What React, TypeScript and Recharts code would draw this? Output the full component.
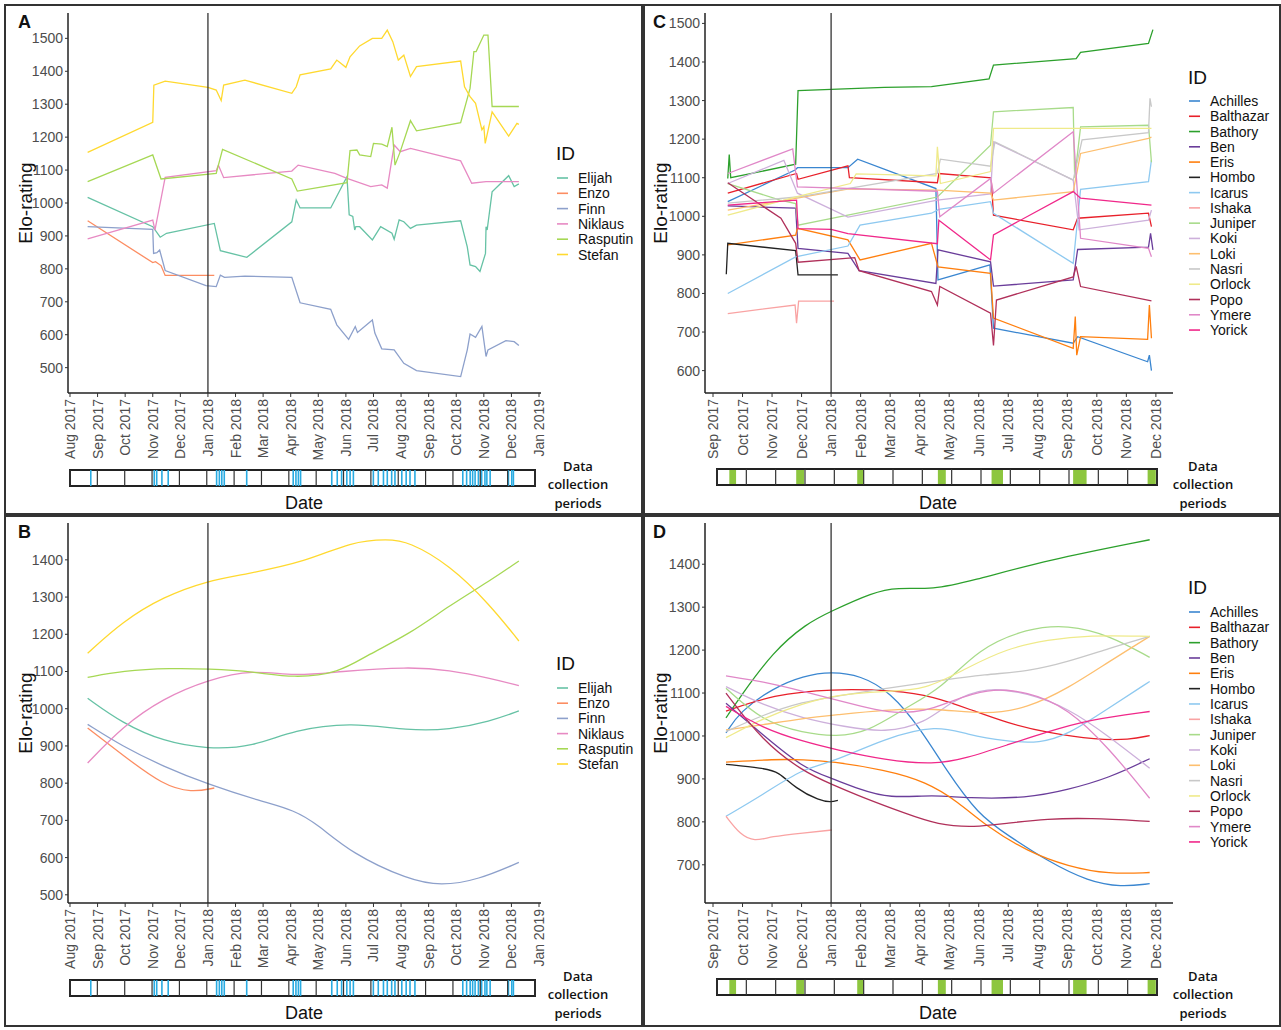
import React from 'react';
import { LineChart, Line, XAxis, YAxis, ReferenceLine, ReferenceArea, ComposedChart } from 'recharts';

type Pt = [number, number];

const FONT = '"Liberation Sans", Arial, sans-serif';

// ---- axis labels ----
const monthsAB = ['Aug 2017', 'Sep 2017', 'Oct 2017', 'Nov 2017', 'Dec 2017', 'Jan 2018', 'Feb 2018', 'Mar 2018', 'Apr 2018',
  'May 2018', 'Jun 2018', 'Jul 2018', 'Aug 2018', 'Sep 2018', 'Oct 2018', 'Nov 2018', 'Dec 2018', 'Jan 2019'];
const monthsCD = ['Sep 2017', 'Oct 2017', 'Nov 2017', 'Dec 2017', 'Jan 2018', 'Feb 2018', 'Mar 2018', 'Apr 2018',
  'May 2018', 'Jun 2018', 'Jul 2018', 'Aug 2018', 'Sep 2018', 'Oct 2018', 'Nov 2018', 'Dec 2018'];
const ticksAB = [0, 1, 2, 3, 4, 5, 6, 7, 8, 9, 10, 11, 12, 13, 14, 15, 16, 17];
const ticksCD = [0, 1, 2, 3, 4, 5, 6, 7, 8, 9, 10, 11, 12, 13, 14, 15];
const yTicksA = [500, 600, 700, 800, 900, 1000, 1100, 1200, 1300, 1400, 1500];
const yTicksB = [500, 600, 700, 800, 900, 1000, 1100, 1200, 1300, 1400];
const yTicksC = [600, 700, 800, 900, 1000, 1100, 1200, 1300, 1400, 1500];
const yTicksD = [700, 800, 900, 1000, 1100, 1200, 1300, 1400];

// ---- group 1 (panels A, B) ----
const ids1 = ['Elijah', 'Enzo', 'Finn', 'Niklaus', 'Rasputin', 'Stefan'];
const colors1 = ['#66C2A5', '#FC8D62', '#8DA0CB', '#E78AC3', '#A6D854', '#FFD92F'];

// months since Aug 2017, Elo rating
const aElijah: Pt[] = [[0.64, 1017], [3.0, 928], [3.27, 896], [3.5, 908], [5.23, 938], [5.45, 855], [6.41, 835], [8.04, 943], [8.2, 1009], [8.34, 985], [9.45, 985], [10.04, 1080], [10.12, 964], [10.25, 959], [10.32, 918], [10.36, 928], [10.5, 928], [10.96, 888], [11.26, 928], [11.67, 908], [11.75, 890], [11.93, 949], [12.1, 943], [12.34, 923], [12.56, 933], [14.16, 946], [14.4, 867], [14.5, 812], [14.7, 807], [14.86, 792], [15.06, 847], [15.08, 928], [15.12, 918], [15.3, 1034], [15.9, 1083], [16.1, 1050], [16.27, 1058]];
const aEnzo: Pt[] = [[0.64, 946], [3.0, 819], [3.1, 822], [3.3, 810], [3.45, 780], [5.23, 780]];
const aFinn: Pt[] = [[0.64, 928], [3.0, 920], [3.03, 847], [3.15, 849], [3.25, 857], [3.45, 795], [4.93, 749], [5.3, 746], [5.45, 781], [5.6, 774], [6.34, 778], [8.04, 774], [8.34, 697], [9.45, 677], [9.67, 630], [10.1, 586], [10.34, 625], [10.42, 607], [10.96, 645], [11.05, 605], [11.3, 557], [11.75, 554], [12.1, 513], [12.56, 491], [14.16, 473], [14.4, 554], [14.5, 602], [14.7, 592], [14.93, 625], [15.08, 534], [15.15, 554], [15.8, 582], [16.1, 579], [16.27, 567]];
const aNiklaus: Pt[] = [[0.64, 891], [3.0, 948], [3.08, 918], [3.45, 1078], [5.3, 1098], [5.38, 1115], [5.57, 1077], [8.04, 1097], [8.27, 1115], [9.6, 1090], [10.04, 1075], [10.9, 1050], [11.3, 1055], [11.5, 1045], [11.75, 1176], [11.97, 1156], [12.34, 1166], [14.16, 1128], [14.56, 1060], [15.08, 1065], [16.27, 1065]];
const aRasputin: Pt[] = [[0.64, 1065], [3.0, 1146], [3.3, 1073], [5.3, 1090], [5.53, 1163], [8.04, 1073], [8.24, 1036], [10.04, 1062], [10.15, 1159], [10.4, 1161], [10.5, 1146], [10.9, 1141], [11.0, 1181], [11.3, 1179], [11.5, 1171], [11.67, 1230], [11.78, 1115], [11.97, 1156], [12.34, 1250], [12.56, 1219], [14.16, 1244], [14.5, 1348], [14.64, 1460], [14.72, 1460], [15.0, 1510], [15.15, 1510], [15.3, 1293], [16.27, 1293]];
const aStefan: Pt[] = [[0.64, 1154], [3.0, 1245], [3.04, 1358], [3.45, 1370], [5.0, 1351], [5.3, 1343], [5.48, 1311], [5.57, 1358], [6.34, 1373], [8.04, 1333], [8.2, 1353], [8.34, 1389], [9.45, 1407], [9.67, 1434], [10.0, 1412], [10.15, 1444], [10.5, 1477], [10.96, 1500], [11.3, 1500], [11.5, 1525], [11.7, 1490], [11.9, 1434], [12.1, 1449], [12.34, 1384], [12.56, 1414], [14.16, 1431], [14.3, 1353], [14.5, 1323], [14.7, 1303], [14.93, 1222], [15.0, 1232], [15.05, 1181], [15.3, 1277], [15.9, 1203], [16.2, 1242], [16.27, 1239]];

const bElijah: Pt[] = [[0.64, 1028], [1.9, 961], [3.38, 912], [5.0, 891], [6.64, 898], [8.12, 943], [10.19, 964], [12.27, 941], [13.75, 943], [15.23, 966], [16.27, 994]];
const bEnzo: Pt[] = [[0.64, 948], [1.9, 876], [3.38, 794], [4.41, 775], [5.23, 787]];
const bFinn: Pt[] = [[0.64, 958], [1.9, 899], [3.38, 845], [5.0, 797], [6.93, 751], [8.12, 728], [9.0, 688], [10.19, 612], [12.27, 540], [13.45, 524], [14.79, 540], [16.27, 587]];
const bNiklaus: Pt[] = [[0.64, 854], [1.9, 952], [3.38, 1028], [5.0, 1078], [6.64, 1105], [8.12, 1087], [9.75, 1100], [12.27, 1113], [13.75, 1104], [15.23, 1082], [16.27, 1062]];
const bRasputin: Pt[] = [[0.64, 1084], [1.9, 1102], [3.67, 1109], [5.0, 1107], [6.64, 1100], [8.12, 1082], [9.75, 1096], [10.79, 1145], [12.27, 1199], [13.75, 1277], [15.23, 1344], [16.27, 1397]];
const bStefan: Pt[] = [[0.64, 1149], [1.9, 1234], [3.38, 1301], [5.0, 1344], [6.34, 1361], [8.56, 1395], [10.19, 1449], [11.53, 1456], [12.27, 1449], [13.75, 1387], [15.23, 1279], [16.27, 1182]];

// ---- group 2 (panels C, D) ----
const ids2 = ['Achilles', 'Balthazar', 'Bathory', 'Ben', 'Eris', 'Hombo', 'Icarus', 'Ishaka', 'Juniper', 'Koki', 'Loki', 'Nasri', 'Orlock', 'Popo', 'Ymere', 'Yorick'];
const colors2 = ['#3A86D0', '#E8202A', '#2CA02C', '#6A3D9A', '#FF7F0E', '#222222', '#8EC9F0', '#F9A3A3', '#A8DB8A', '#CDB0DB', '#FDBF6F', '#C8C8C8', '#EFEA8A', '#B0305A', '#E088C8', '#F0288A'];

// months since Sep 2017, Elo rating
const cAchilles: Pt[] = [[0.5, 1038], [2.78, 1120], [2.86, 1126], [4.57, 1126], [4.9, 1148], [7.55, 1072], [7.62, 835], [9.38, 874], [9.5, 710], [12.2, 671], [12.35, 688], [14.72, 623], [14.78, 640], [14.85, 600]];
const cBalthazar: Pt[] = [[0.5, 1060], [2.83, 1111], [2.88, 1096], [4.57, 1131], [4.62, 1100], [7.6, 1087], [7.65, 1111], [9.42, 1100], [9.5, 1003], [12.2, 965], [12.35, 995], [14.75, 1008], [14.85, 973]];
const cBathory: Pt[] = [[0.5, 1098], [0.55, 1160], [0.6, 1100], [2.8, 1135], [2.88, 1326], [4.0, 1329], [5.8, 1334], [7.4, 1336], [9.35, 1356], [9.5, 1392], [12.3, 1409], [12.45, 1425], [14.75, 1448], [14.9, 1484]];
const cBen: Pt[] = [[0.5, 1027], [2.8, 1021], [2.88, 917], [4.57, 904], [4.95, 859], [7.55, 826], [7.62, 913], [9.4, 882], [9.5, 819], [12.2, 835], [12.35, 914], [14.75, 920], [14.82, 956], [14.9, 913]];
const cEris: Pt[] = [[0.5, 926], [2.8, 951], [2.86, 969], [4.57, 939], [4.98, 887], [7.4, 930], [7.62, 869], [9.4, 852], [9.5, 736], [12.2, 658], [12.27, 740], [12.32, 640], [12.45, 688], [14.72, 681], [14.78, 770], [14.85, 684]];
const cHombo: Pt[] = [[0.45, 850], [0.5, 930], [2.8, 911], [2.88, 848], [4.23, 848]];
const cIcarus: Pt[] = [[0.5, 800], [2.8, 895], [4.57, 923], [4.98, 977], [7.4, 1008], [7.65, 1018], [9.4, 1038], [9.5, 1008], [12.2, 878], [12.45, 1070], [14.75, 1090], [14.85, 1146]];
const cIshaka: Pt[] = [[0.5, 748], [2.78, 770], [2.83, 723], [2.9, 780], [4.1, 780]];
const cJuniper: Pt[] = [[0.5, 1085], [2.27, 1042], [2.8, 1033], [2.88, 977], [7.6, 1050], [9.4, 1184], [9.5, 1271], [12.2, 1282], [12.25, 1100], [12.45, 1232], [14.75, 1236], [14.85, 1140]];
const cKoki: Pt[] = [[0.5, 1085], [2.4, 1145], [2.86, 1060], [4.57, 998], [7.6, 1042], [9.4, 1058], [9.5, 1193], [12.2, 1094], [12.4, 965], [14.75, 990], [14.85, 1016]];
const cLoki: Pt[] = [[0.5, 1016], [2.85, 1047], [4.6, 1071], [7.6, 1068], [9.4, 1060], [9.5, 1042], [12.2, 1064], [12.45, 1163], [14.75, 1202], [14.85, 1205]];
const cNasri: Pt[] = [[0.5, 1034], [2.85, 1050], [7.6, 1111], [7.7, 1148], [9.4, 1130], [9.55, 1193], [12.2, 1094], [12.5, 1198], [14.75, 1217], [14.8, 1306], [14.85, 1284]];
const cOrlock: Pt[] = [[0.5, 1003], [2.85, 1051], [4.65, 1085], [4.85, 1110], [7.55, 1105], [7.6, 1180], [7.7, 1085], [9.4, 1116], [9.5, 1228], [14.85, 1228]];
const cPopo: Pt[] = [[0.5, 1087], [2.3, 995], [2.8, 930], [2.88, 881], [4.8, 893], [4.95, 859], [7.4, 805], [7.6, 770], [7.68, 818], [9.4, 749], [9.5, 665], [9.6, 783], [12.2, 843], [12.3, 870], [12.45, 818], [14.85, 781]];
const cYmere: Pt[] = [[0.5, 1111], [2.7, 1175], [2.86, 1076], [7.6, 1065], [7.68, 999], [9.4, 1098], [9.5, 1060], [12.2, 1219], [12.45, 943], [14.75, 917], [14.85, 895]];
const cYorick: Pt[] = [[0.5, 1029], [2.83, 1042], [2.88, 968], [4.0, 966], [4.57, 955], [7.6, 929], [7.65, 990], [9.4, 887], [9.5, 952], [12.2, 1064], [12.45, 1047], [14.85, 1029]];

const dAchilles: Pt[] = [[0.44, 1007], [0.91, 1057], [2.04, 1112], [3.06, 1140], [4.0, 1150], [5.0, 1141], [6.0, 1103], [7.05, 1015], [7.89, 921], [8.99, 816], [9.96, 770], [11.34, 708], [12.72, 661], [13.82, 648], [14.79, 656]];
const dBalthazar: Pt[] = [[0.44, 1058], [2.04, 1096], [3.98, 1110], [6.22, 1106], [7.46, 1092], [8.7, 1062], [9.96, 1030], [11.34, 1007], [12.99, 991], [14.1, 991], [14.79, 1001]];
const dBathory: Pt[] = [[0.44, 1042], [0.91, 1090], [2.04, 1197], [3.17, 1262], [3.98, 1290], [5.43, 1335], [6.22, 1346], [7.46, 1341], [8.7, 1360], [11.34, 1410], [14.79, 1457]];
const dBen: Pt[] = [[0.44, 1076], [1.68, 1003], [3.06, 925], [4.0, 902], [4.99, 875], [5.96, 855], [7.48, 863], [8.58, 855], [10.65, 855], [12.03, 875], [13.41, 902], [14.79, 947]];
const dEris: Pt[] = [[0.44, 939], [2.1, 946], [3.06, 945], [4.0, 941], [5.82, 921], [7.2, 894], [8.3, 847], [9.27, 789], [10.65, 731], [12.03, 696], [13.41, 678], [14.79, 682]];
const dHombo: Pt[] = [[0.44, 934], [1.68, 925], [2.23, 917], [2.79, 878], [3.61, 849], [4.0, 846], [4.23, 850]];
const dIcarus: Pt[] = [[0.44, 813], [1.68, 863], [3.06, 925], [4.0, 937], [5.82, 995], [7.61, 1026], [8.58, 1003], [9.96, 987], [11.06, 983], [12.03, 1003], [13.41, 1065], [14.79, 1127]];
const dIshaka: Pt[] = [[0.44, 813], [0.92, 770], [1.41, 754], [1.96, 766], [3.06, 774], [4.03, 781]];
const dJuniper: Pt[] = [[0.44, 1111], [1.68, 1034], [3.06, 1007], [4.17, 998], [5.27, 1010], [6.5, 1065], [7.75, 1111], [8.99, 1204], [10.65, 1251], [12.03, 1259], [13.41, 1235], [14.79, 1183]];
const dKoki: Pt[] = [[0.44, 1115], [1.68, 1072], [3.06, 1041], [4.44, 1022], [5.82, 1007], [7.2, 1030], [8.03, 1080], [9.27, 1115], [10.65, 1100], [12.03, 1065], [13.41, 999], [14.79, 925]];
const dLoki: Pt[] = [[0.44, 1014], [1.68, 1026], [3.06, 1041], [4.17, 1049], [5.82, 1061], [7.48, 1065], [9.27, 1049], [10.65, 1065], [12.03, 1111], [13.41, 1173], [14.79, 1232]];
const dNasri: Pt[] = [[0.44, 1010], [1.68, 1049], [3.06, 1080], [4.17, 1092], [5.82, 1111], [7.48, 1127], [9.27, 1144], [10.65, 1150], [12.03, 1173], [13.41, 1204], [14.79, 1232]];
const dOrlock: Pt[] = [[0.44, 996], [1.68, 1041], [3.06, 1076], [4.17, 1096], [5.82, 1104], [7.2, 1107], [8.58, 1158], [9.96, 1204], [11.34, 1224], [12.72, 1235], [14.79, 1232]];
const dPopo: Pt[] = [[0.44, 1100], [1.68, 988], [3.06, 917], [4.0, 888], [5.13, 855], [6.5, 820], [7.61, 793], [8.86, 787], [9.96, 797], [11.34, 807], [12.72, 809], [14.79, 801]];
const dYmere: Pt[] = [[0.44, 1140], [1.68, 1127], [3.06, 1104], [4.17, 1084], [5.27, 1065], [6.1, 1053], [7.2, 1057], [8.03, 1080], [9.27, 1111], [10.65, 1104], [12.03, 1065], [13.41, 972], [14.79, 855]];
const dYorick: Pt[] = [[0.44, 1069], [1.68, 1018], [3.06, 987], [4.17, 968], [5.82, 944], [7.48, 933], [8.58, 948], [9.96, 979], [11.34, 1010], [12.72, 1038], [14.79, 1057]];

// ---- data collection periods ----
const collectAB = [0.76, 3.08, 3.17, 3.36, 3.59, 5.36, 5.46, 5.55, 5.64, 6.46, 8.16, 8.26, 8.35, 8.43, 9.57, 9.77, 9.93, 10.12, 10.24, 10.36,
  11.09, 11.27, 11.46, 11.6, 11.76, 11.88, 12.13, 12.29, 12.43, 12.61, 14.36, 14.5, 14.63, 14.72, 14.81, 14.93, 15.05, 15.17, 15.24, 15.36,
  16.03, 16.15, 16.21];
const collectCD: Pt[] = [[0.42, 0.65], [2.7, 2.97], [4.78, 4.99], [7.53, 7.8], [9.36, 9.75], [12.14, 12.6], [14.68, 14.96]];

const seriesA = [aElijah, aEnzo, aFinn, aNiklaus, aRasputin, aStefan];
const seriesB = [bElijah, bEnzo, bFinn, bNiklaus, bRasputin, bStefan];
const seriesC = [cAchilles, cBalthazar, cBathory, cBen, cEris, cHombo, cIcarus, cIshaka, cJuniper, cKoki, cLoki, cNasri, cOrlock, cPopo, cYmere, cYorick];
const seriesD = [dAchilles, dBalthazar, dBathory, dBen, dEris, dHombo, dIcarus, dIshaka, dJuniper, dKoki, dLoki, dNasri, dOrlock, dPopo, dYmere, dYorick];

const RotTick = (props: any) => {
  const { x, y, payload, labels } = props;
  return (
    <text x={x} y={y} transform={`rotate(-90, ${x}, ${y})`} textAnchor="end" dominantBaseline="central"
      fontSize={14} fill="#4d4d4d" fontFamily={FONT}>
      {labels[payload.value]}
    </text>
  );
};

interface EloProps {
  left: number; top: number; width: number; yWidth: number;
  xDomain: [number, number]; xTicks: number[]; xLabels: string[]; cut: number;
  yDomain: [number, number]; yTicks: number[];
  series: Pt[][]; colors: string[]; ids: string[]; curve: 'linear' | 'basis';
}

const EloChart = ({ left, top, width, yWidth, xDomain, xTicks, xLabels, cut, yDomain, yTicks, series, colors, ids, curve }: EloProps) => (
  <div style={{ position: 'absolute', left, top }}>
    <LineChart width={width} height={463} margin={{ top: 13, right: 5, bottom: 0, left: 0 }}>
      <XAxis type="number" dataKey="m" domain={xDomain} ticks={xTicks} interval={0} allowDataOverflow height={70}
        axisLine={{ stroke: '#222', strokeWidth: 1.5 }} tickLine={{ stroke: '#333' }} tickSize={4}
        tick={(p: any) => <RotTick {...p} labels={xLabels} />} />
      <YAxis type="number" dataKey="v" domain={yDomain} ticks={yTicks} interval={0} allowDataOverflow width={yWidth}
        axisLine={{ stroke: '#222', strokeWidth: 1.5 }} tickLine={{ stroke: '#333' }} tickSize={3}
        tick={{ fill: '#4d4d4d', fontSize: 14, fontFamily: FONT }} />
      {series.map((s, i) => (
        <Line key={ids[i]} name={ids[i]} data={s.map(([m, v]) => ({ m, v }))} dataKey="v" type={curve}
          stroke={colors[i]} strokeWidth={1.3} dot={false} activeDot={false} isAnimationActive={false} />
      ))}
      <ReferenceLine x={cut} stroke="#333" strokeWidth={1.3} />
    </LineChart>
  </div>
);

interface StripProps {
  left: number; top: number; width: number; padLeft: number; domain: [number, number];
  bounds: number[]; lines?: number[]; bands?: Pt[];
}

const Strip = ({ left, top, width, padLeft, domain, bounds, lines = [], bands = [] }: StripProps) => (
  <div style={{ position: 'absolute', left, top }}>
    <ComposedChart width={width} height={30} margin={{ top: 10, right: 5, bottom: 4, left: padLeft }}
      data={bounds.map((m) => ({ m, v: 0 }))}>
      <XAxis type="number" dataKey="m" domain={domain} hide allowDataOverflow />
      <YAxis type="number" domain={[0, 1]} hide />
      <Line dataKey="v" stroke="none" dot={false} isAnimationActive={false} />
      {bands.map(([a, b], i) => (
        <ReferenceArea key={'b' + i} x1={a} x2={b} y1={0} y2={1} fill="#8DC63F" fillOpacity={1} stroke="none" />
      ))}
      {lines.map((m, i) => (
        <ReferenceLine key={'l' + i} x={m} stroke="#29ABE2" strokeWidth={1.6} />
      ))}
      {bounds.map((m, i) => (
        <ReferenceLine key={'m' + i} x={m} stroke="#333" strokeWidth={1.2} />
      ))}
      <ReferenceArea x1={domain[0]} x2={domain[1]} y1={0} y2={1} fill="none" stroke="#222" strokeWidth={2} />
    </ComposedChart>
  </div>
);

const Legend = ({ x, titleY, y0, step, ids, colors }: { x: number; titleY: number; y0: number; step: number; ids: string[]; colors: string[] }) => (
  <g fontFamily={FONT}>
    <text x={x} y={titleY} fontSize={19} dominantBaseline="central" fill="#111">ID</text>
    {ids.map((id, i) => (
      <g key={id}>
        <line x1={x + 1} x2={x + 12} y1={y0 + i * step} y2={y0 + i * step} stroke={colors[i]} strokeWidth={1.6} />
        <text x={x + 22} y={y0 + i * step} fontSize={14} dominantBaseline="central" fill="#111">{id}</text>
      </g>
    ))}
  </g>
);

const PanelText = ({ dx, dy, letter, dateX, noteX }: { dx: number; dy: number; letter: string; dateX: number; noteX: number }) => (
  <g fontFamily={FONT}>
    <text x={dx + 13} y={dy + 22} fontSize={18} fontWeight="bold" dominantBaseline="central" fill="#111">{letter}</text>
    <text x={dx + 20} y={dy + 203} fontSize={19} textAnchor="middle" dominantBaseline="central" fill="#111"
      transform={`rotate(-90, ${dx + 20}, ${dy + 203})`}>Elo-rating</text>
    <text x={dateX} y={dy + 503} fontSize={18} textAnchor="middle" dominantBaseline="central" fill="#111">Date</text>
    <g fontFamily='"Open Sans", sans-serif' fontSize={13} fontWeight={600} textAnchor="middle" fill="#111">
      <text x={noteX} y={dy + 466} dominantBaseline="central">Data</text>
      <text x={noteX} y={dy + 484} dominantBaseline="central">collection</text>
      <text x={noteX} y={dy + 503} dominantBaseline="central">periods</text>
    </g>
  </g>
);

const frame = (left: number, top: number, width: number, height: number): React.CSSProperties => ({
  position: 'absolute', left, top, width, height, border: '2px solid #333', boxSizing: 'border-box',
});

export default function App() {
  const domAB: [number, number] = [-0.072, 17.072];
  const domCD: [number, number] = [-0.271, 15.58];
  return (
    <div style={{ position: 'absolute', left: 0, top: 0, width: 1281, height: 1030, background: '#fff', overflow: 'hidden' }}>
      <div style={frame(4, 4, 639, 511)} />
      <div style={frame(643, 4, 638, 511)} />
      <div style={frame(4, 515, 639, 512)} />
      <div style={frame(643, 515, 638, 512)} />

      <EloChart left={0} top={0} width={546} yWidth={68} xDomain={domAB} xTicks={ticksAB} xLabels={monthsAB} cut={5}
        yDomain={[423, 1577]} yTicks={yTicksA} series={seriesA} colors={colors1} ids={ids1} curve="linear" />
      <EloChart left={0} top={510} width={546} yWidth={68} xDomain={domAB} xTicks={ticksAB} xLabels={monthsAB} cut={5}
        yDomain={[478, 1499]} yTicks={yTicksB} series={seriesB} colors={colors1} ids={ids1} curve="basis" />
      <EloChart left={640} top={0} width={538} yWidth={65} xDomain={domCD} xTicks={ticksCD} xLabels={monthsCD} cut={4}
        yDomain={[542, 1527]} yTicks={yTicksC} series={seriesC} colors={colors2} ids={ids2} curve="linear" />
      <EloChart left={640} top={510} width={538} yWidth={65} xDomain={domCD} xTicks={ticksCD} xLabels={monthsCD} cut={4}
        yDomain={[611, 1496]} yTicks={yTicksD} series={seriesD} colors={colors2} ids={ids2} curve="basis" />

      <Strip left={0} top={460} width={540} padLeft={70} domain={[0, 17]} bounds={ticksAB} lines={collectAB} />
      <Strip left={0} top={970} width={540} padLeft={70} domain={[0, 17]} bounds={ticksAB} lines={collectAB} />
      <Strip left={640} top={459} width={522} padLeft={77} domain={[0, 15]} bounds={ticksCD} bands={collectCD} />
      <Strip left={640} top={969} width={522} padLeft={77} domain={[0, 15]} bounds={ticksCD} bands={collectCD} />

      <svg width={1281} height={1030} style={{ position: 'absolute', left: 0, top: 0, pointerEvents: 'none' }}>
        <PanelText dx={5} dy={0} letter="A" dateX={304} noteX={578} />
        <PanelText dx={5} dy={510} letter="B" dateX={304} noteX={578} />
        <PanelText dx={640} dy={0} letter="C" dateX={938} noteX={1203} />
        <PanelText dx={640} dy={510} letter="D" dateX={938} noteX={1203} />
        <Legend x={556} titleY={153} y0={178} step={15.3} ids={ids1} colors={colors1} />
        <Legend x={556} titleY={663} y0={688} step={15.2} ids={ids1} colors={colors1} />
        <Legend x={1188} titleY={77} y0={101} step={15.27} ids={ids2} colors={colors2} />
        <Legend x={1188} titleY={587} y0={612} step={15.33} ids={ids2} colors={colors2} />
      </svg>
    </div>
  );
}
